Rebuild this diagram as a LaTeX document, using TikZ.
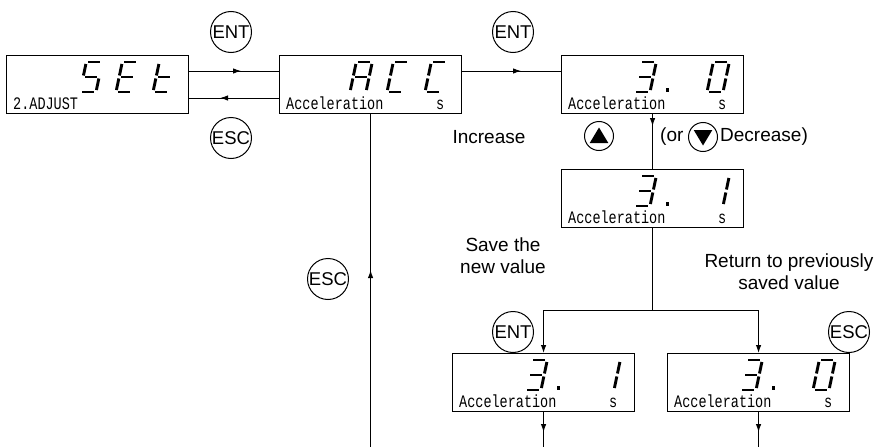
\documentclass[tikz,border=0pt]{standalone}
\usepackage{fontspec}
\setmainfont{Liberation Sans}
\newfontfamily\lcdfont{Liberation Mono}
\usepackage{graphicx}
\usetikzlibrary{arrows.meta,decorations.markings,calc}

\tikzset{
  lcdbox/.style={draw, line width=1.1pt, minimum width=182pt, minimum height=58pt, inner sep=0pt, anchor=north west},
  lcdtxt/.style={inner sep=0pt, font=\lcdfont\fontsize{13.5}{13.5}\selectfont},
  segline/.style={line width=2.9pt, line cap=butt},
  btn/.style={circle, draw, line width=1pt, minimum size=41pt, inner sep=0pt, font=\fontsize{18.5}{18.5}\selectfont},
  tribtn/.style={circle, draw, line width=1pt, minimum size=29pt, inner sep=0pt},
  lbl/.style={inner sep=0pt, align=center, font=\fontsize{19}{22}\selectfont},
  conn/.style={line width=1pt},
  tipstyle/.style={-{Latex[length=8pt,width=5.5pt]}},
  midarr/.style={postaction={decorate, decoration={markings, mark=at position #1 with {\arrow{Latex[length=8pt,width=5.5pt]}}}}}
}

\newcommand\sevenseg[2]{%
  \begin{scope}[shift={#1}, xslant=0.21]
    \coordinate (sa1) at (2,-30);    \coordinate (sa2) at (14,-30);
    \coordinate (sb1) at (16,-28);   \coordinate (sb2) at (16,-16.5);
    \coordinate (sc1) at (16,-13.5); \coordinate (sc2) at (16,-2);
    \coordinate (sd1) at (2,0);      \coordinate (sd2) at (14,0);
    \coordinate (se1) at (0,-2);     \coordinate (se2) at (0,-13.5);
    \coordinate (sf1) at (0,-16.5);  \coordinate (sf2) at (0,-28);
    \coordinate (sg1) at (2,-15);    \coordinate (sg2) at (14,-15);
    \foreach \s in {#2}{\draw[segline] (s\s1) -- (s\s2);}
  \end{scope}}

% #1 box name, #2 slot offset, #3 segments
\newcommand\dig[3]{\sevenseg{($(#1.north west)+(#2,37)$)}{#3}}
\newcommand\dpt[1]{\fill ($(#1.north west)+(104.5,33)$) rectangle ++(3.6,3.6);}
\newcommand\lcdlabel[2]{%
  \node[lcdtxt, anchor=base west] (#1-lbl) at ($(#1.north west)+(7,54)$) {\scalebox{1}[1.3]{#2}};}
\newcommand\lcdunit[1]{%
  \node[lcdtxt, anchor=base west] (#1-unit) at ($(#1.north west)+(157,54)$) {\scalebox{1}[1.3]{s}};}

\begin{document}
\begin{tikzpicture}[x=1pt,y=-1pt]
\useasboundingbox (0,0) rectangle (879,447);
\fill[white] (0,0) rectangle (879,447);

% ---- LCD boxes
\node[lcdbox] (set) at (6,55) {};
\node[lcdbox] (acc) at (279,55) {};
\node[lcdbox] (b30) at (561,55) {};
\node[lcdbox] (b31) at (561,169) {};
\node[lcdbox] (l31) at (452,353) {};
\node[lcdbox] (r30) at (667,353) {};

% SEt
\lcdlabel{set}{2.ADJUST}
\dig{set}{74}{a,f,g,c,d}
\dig{set}{110}{a,f,g,e,d}
\dig{set}{147}{f,e,g,d}
% ACC
\lcdlabel{acc}{Acceleration}\lcdunit{acc}
\dig{acc}{71}{a,b,c,e,f,g}
\dig{acc}{108}{a,f,e,d}
\dig{acc}{146}{a,f,e,d}
% 3. 0
\lcdlabel{b30}{Acceleration}\lcdunit{b30}
\dig{b30}{73}{a,b,g,c,d}\dpt{b30}
\dig{b30}{146}{a,b,c,d,e,f}
% 3. 1
\lcdlabel{b31}{Acceleration}\lcdunit{b31}
\dig{b31}{73}{a,b,g,c,d}\dpt{b31}
\dig{b31}{146}{b,c}
% 3. 1 (saved)
\lcdlabel{l31}{Acceleration}\lcdunit{l31}
\dig{l31}{73}{a,b,g,c,d}\dpt{l31}
\dig{l31}{146}{b,c}
% 3. 0 (restored)
\lcdlabel{r30}{Acceleration}\lcdunit{r30}
\dig{r30}{73}{a,b,g,c,d}\dpt{r30}
\dig{r30}{146}{a,b,c,d,e,f}

% ---- key circles
\node[btn] (ent1) at (231,32) {ENT};
\node[btn] (esc1) at (231,138) {ESC};
\node[btn] (ent2) at (513,32) {ENT};
\node[btn] (esc2) at (328,279) {ESC};
\node[btn] (ent3) at (513,332) {ENT};
\node[btn] (esc3) at (849,332) {ESC};
\node[tribtn] (up) at (599,136) {};
\fill ($(up.center)+(0,-8.5)$) -- ($(up.center)+(9.3,7)$) -- ($(up.center)+(-9.3,7)$) -- cycle;
\node[tribtn] (down) at (703,137) {};
\fill ($(down.center)+(0,8.5)$) -- ($(down.center)+(9.3,-7)$) -- ($(down.center)+(-9.3,-7)$) -- cycle;

% ---- labels
\node[lbl] (inc) at (489,137) {Increase};
\node[lbl, anchor=west] (or) at (660,137) {(or};
\node[lbl, anchor=west] (dec) at (720,137) {Decrease)};
\node[lbl] (save) at (503,256) {Save the\\new value};
\node[lbl] (ret) at (789,272) {Return to previously\\saved value};

% ---- connectors
\draw[conn, midarr=52pt] ($(set.north east)+(0,16)$) -- ($(acc.north west)+(0,16)$);
\draw[conn, midarr=59pt] ($(acc.north west)+(0,43)$) -- ($(set.north east)+(0,43)$);
\draw[conn, midarr=59pt] ($(acc.north east)+(0,16)$) -- ($(b30.north west)+(0,16)$);
\draw[conn, midarr=12pt] (b30.south) -- (b31.north);

\coordinate (split) at ($(b31.south)+(0,82)$);
\draw[conn] (b31.south) -- (split);
\draw[conn, tipstyle] (split) -| (l31.north);
\draw[conn, tipstyle] (split) -| (r30.north);

\coordinate (l31out) at ($(l31.south)+(0,36)$);
\coordinate (r30out) at ($(r30.south)+(0,36)$);
\draw[conn, midarr=20pt] (l31.south) -- (l31out);
\draw[conn, midarr=20pt] (r30.south) -- (r30out);

\coordinate (accin) at ($(acc.south)+(0,335)$);
\draw[conn, midarr=179pt] (accin) -- (acc.south);
\end{tikzpicture}
\end{document}
